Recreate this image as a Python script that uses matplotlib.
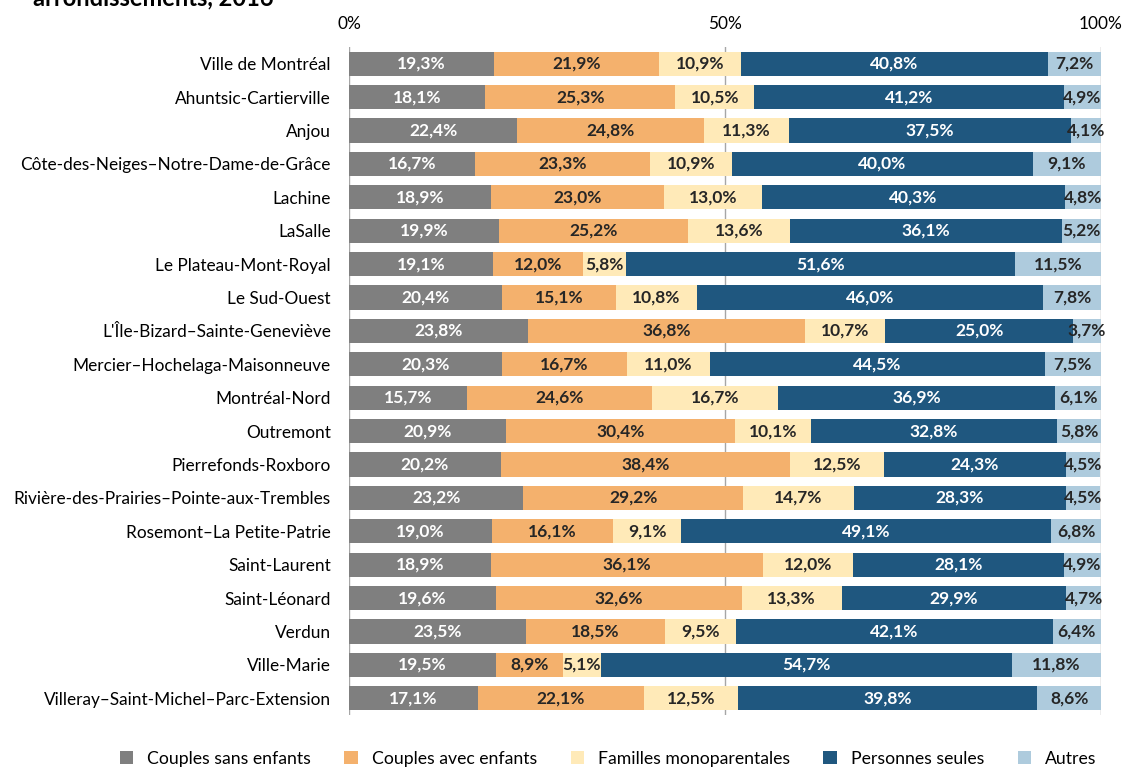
import matplotlib
matplotlib.use("Agg")
import matplotlib.pyplot as plt
import numpy as np

plt.rcParams['font.family'] = ['Lato', 'DejaVu Sans']

categories = [
    "Ville de Montréal", "Ahuntsic-Cartierville", "Anjou",
    "Côte-des-Neiges–Notre-Dame-de-Grâce", "Lachine", "LaSalle",
    "Le Plateau-Mont-Royal", "Le Sud-Ouest", "L'Île-Bizard–Sainte-Geneviève",
    "Mercier–Hochelaga-Maisonneuve", "Montréal-Nord", "Outremont",
    "Pierrefonds-Roxboro", "Rivière-des-Prairies–Pointe-aux-Trembles",
    "Rosemont–La Petite-Patrie", "Saint-Laurent", "Saint-Léonard", "Verdun",
    "Ville-Marie", "Villeray–Saint-Michel–Parc-Extension",
]
couples_sans = [19.3, 18.1, 22.4, 16.7, 18.9, 19.9, 19.1, 20.4, 23.8, 20.3,
                15.7, 20.9, 20.2, 23.2, 19.0, 18.9, 19.6, 23.5, 19.5, 17.1]
couples_avec = [21.9, 25.3, 24.8, 23.3, 23.0, 25.2, 12.0, 15.1, 36.8, 16.7,
                24.6, 30.4, 38.4, 29.2, 16.1, 36.1, 32.6, 18.5, 8.9, 22.1]
monoparentales = [10.9, 10.5, 11.3, 10.9, 13.0, 13.6, 5.8, 10.8, 10.7, 11.0,
                  16.7, 10.1, 12.5, 14.7, 9.1, 12.0, 13.3, 9.5, 5.1, 12.5]
seules = [40.8, 41.2, 37.5, 40.0, 40.3, 36.1, 51.6, 46.0, 25.0, 44.5,
          36.9, 32.8, 24.3, 28.3, 49.1, 28.1, 29.9, 42.1, 54.7, 39.8]
autres = [7.2, 4.9, 4.1, 9.1, 4.8, 5.2, 11.5, 7.8, 3.7, 7.5,
          6.1, 5.8, 4.5, 4.5, 6.8, 4.9, 4.7, 6.4, 11.8, 8.6]
series_names = ["Couples sans enfants", "Couples avec enfants",
                "Familles monoparentales", "Personnes seules", "Autres"]
x_ticks = [0, 50, 100]
x_tick_labels = ["0%", "50%", "100%"]

series = [couples_sans, couples_avec, monoparentales, seules, autres]
colors = ["#7F7F7F", "#F4B16D", "#FFEAB8", "#1F577F", "#AECBDD"]
text_colors = ["white", "#262626", "#262626", "white", "#262626"]

fig = plt.figure(figsize=(11.22, 7.69), dpi=100)
ax = fig.add_axes([349/1122, 1-715/769, (1101-349)/1122, (715-47)/769])

y = np.arange(len(categories))
left = np.zeros(len(categories))
handles = []
for vals, name, col, tcol in zip(series, series_names, colors, text_colors):
    vals = np.array(vals)
    bars = ax.barh(y, vals, left=left, height=0.73, color=col, label=name, zorder=3)
    handles.append(bars)
    for yi, l, v in zip(y, left, vals):
        ax.text(l + v/2, yi, f"{v:.1f}%".replace('.', ','), ha='center', va='center',
                color=tcol, fontsize=12.5, fontweight='bold', zorder=4)
    left = left + vals

ax.set_xlim(0, 100)
ax.set_ylim(len(categories) - 0.5, -0.5)
ax.set_yticks(y)
ax.set_yticklabels(categories, fontsize=12.4)
ax.tick_params(axis='y', length=0, pad=13)
ax.xaxis.tick_top()
ax.set_xticks(x_ticks)
ax.set_xticklabels(x_tick_labels, fontsize=12.4)
ax.tick_params(axis='x', length=0, pad=11)
for s in ax.spines.values():
    s.set_visible(False)
for xv in x_ticks:
    ax.axvline(xv, color='#A6A6A6', lw=1, zorder=1)

fig.text(33/1122, 1.003, "arrondissements, 2016", fontsize=17, fontweight='bold',
         ha='left', va='center', color='black')

fig.legend(handles=handles, labels=series_names, loc='center', ncol=5,
           bbox_to_anchor=(0.542, 0.013), frameon=False, fontsize=12.7,
           handlelength=0.75, handleheight=0.75, columnspacing=1.9, handletextpad=0.8)

fig.savefig("out.png", dpi=100)
